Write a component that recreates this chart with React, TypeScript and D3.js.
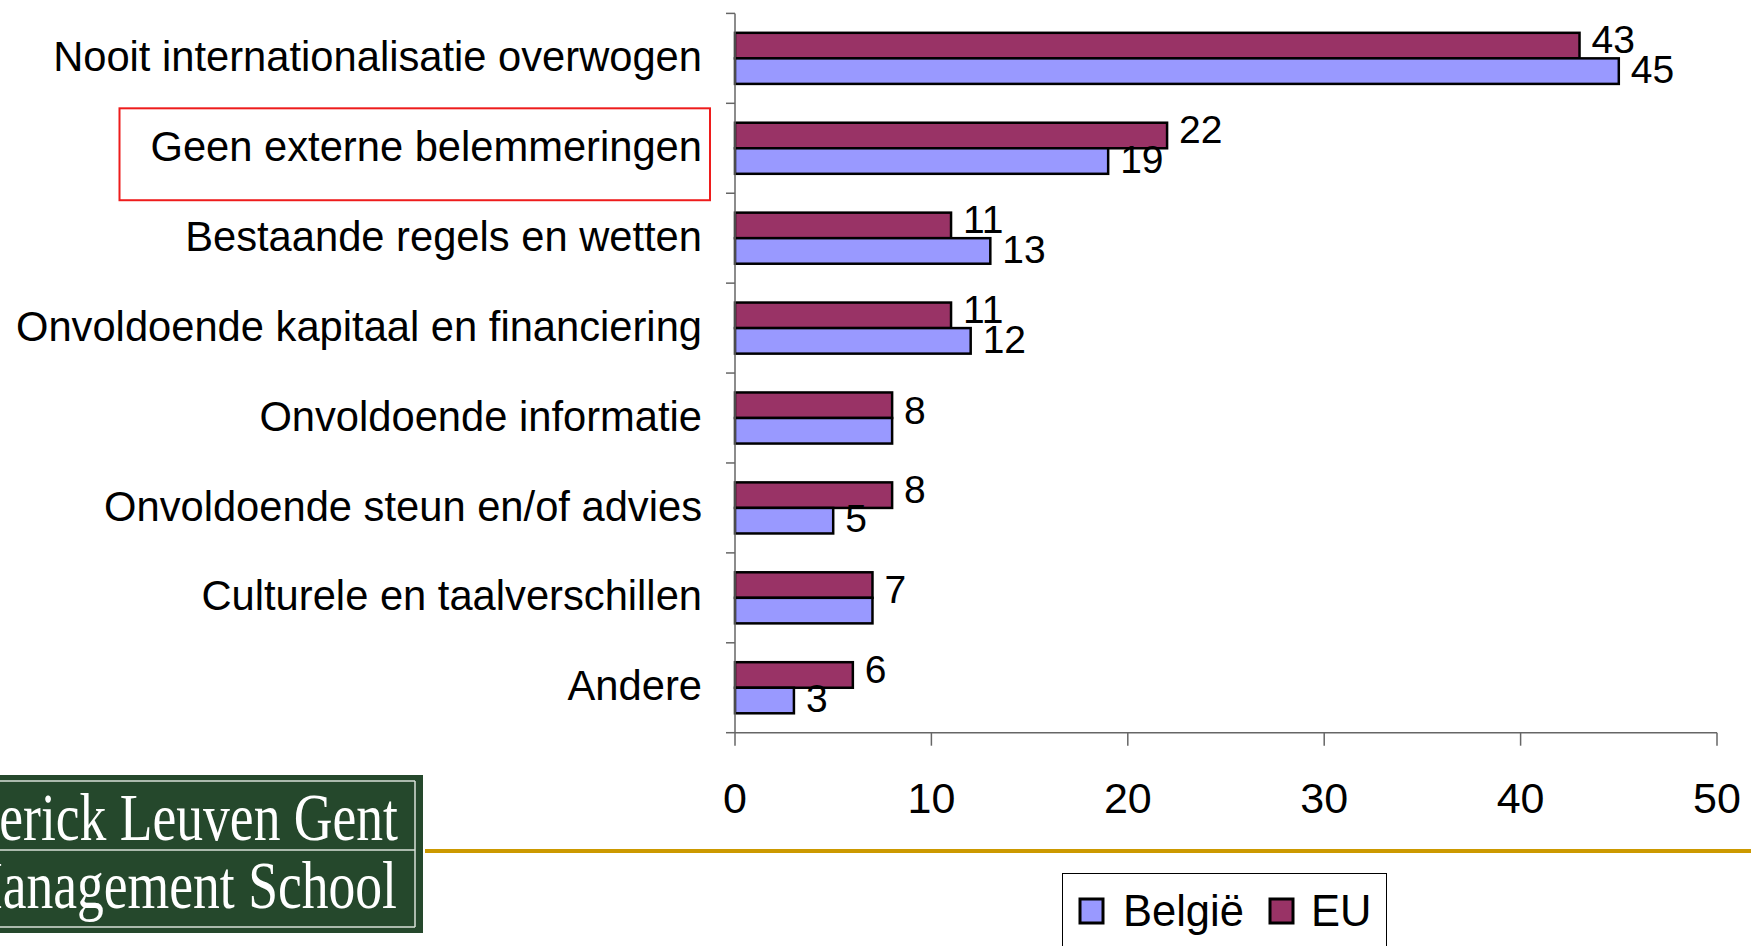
import React from "react";
import * as d3 from "d3";

const categories = [
  "Nooit internationalisatie overwogen",
  "Geen externe belemmeringen",
  "Bestaande regels en wetten",
  "Onvoldoende kapitaal en financiering",
  "Onvoldoende informatie",
  "Onvoldoende steun en/of advies",
  "Culturele en taalverschillen",
  "Andere",
];
const belgie = [45, 19, 13, 12, 8, 5, 7, 3];
const eu = [43, 22, 11, 11, 8, 8, 7, 6];
const xTicks = [0, 10, 20, 30, 40, 50];
const seriesNames = ["België", "EU"];
const highlighted = "Geen externe belemmeringen";
const logoLines = ["Vlerick Leuven Gent", "Management School"];

const W = 1751;
const H = 946;
const FONT = "'Liberation Sans', Arial, Helvetica, sans-serif";
const SERIF = "'Liberation Serif', 'Times New Roman', serif";
const COL_BE = "#9999FF";
const COL_EU = "#993366";

export default function App() {
  const x = d3.scaleLinear().domain([0, 50]).range([735, 1717]);
  const y = d3.scaleBand<string>().domain(categories).range([13.4, 732.7]);
  const bw = y.bandwidth();
  const inner = d3
    .scaleBand<string>()
    .domain(["EU", "België"])
    .range([0, bw])
    .paddingInner(0)
    .paddingOuter(0.76);
  const ih = inner.bandwidth();
  const x0 = x(0);
  const yTop = y.range()[0];
  const yBot = y.range()[1];

  const rows = categories.map((c, i) => ({ c, be: belgie[i], eu: eu[i] }));

  return (
    <svg
      width={W}
      height={H}
      style={{ position: "absolute", left: 0, top: 0, background: "#fff" }}
    >
      <rect x={0} y={0} width={W} height={H} fill="#fff" />

      {/* bars */}
      {rows.map((r) => {
        const by = y(r.c)!;
        const yEU = by + inner("EU")!;
        const yBE = by + inner("België")!;
        return (
          <g key={r.c}>
            <rect
              x={x0}
              y={yEU}
              width={x(r.eu) - x0}
              height={ih}
              fill={COL_EU}
              stroke="#000"
              strokeWidth={2.5}
            />
            <rect
              x={x0}
              y={yBE}
              width={x(r.be) - x0}
              height={ih}
              fill={COL_BE}
              stroke="#000"
              strokeWidth={2.5}
            />
          </g>
        );
      })}

      {/* value labels */}
      {rows.map((r) => {
        const by = y(r.c)!;
        const cEU = by + inner("EU")! + ih / 2;
        const cBE = by + inner("België")! + ih / 2;
        const common = {
          fontFamily: FONT,
          fontSize: 39,
          fill: "#000",
          dy: "0.35em",
        } as const;
        if (r.eu === r.be) {
          return (
            <text key={r.c} x={x(r.eu) + 12} y={(cEU + cBE) / 2 - 8} {...common}>
              {r.eu}
            </text>
          );
        }
        return (
          <g key={r.c}>
            <text x={x(r.eu) + 12} y={cEU - 6} {...common}>
              {r.eu}
            </text>
            <text x={x(r.be) + 12} y={cBE - 2} {...common}>
              {r.be}
            </text>
          </g>
        );
      })}

      {/* y axis */}
      <line x1={x0} x2={x0} y1={yTop} y2={yBot} stroke="#666" strokeWidth={1.5} />
      {[...categories.map((c) => y(c)!), yBot].map((t, i) => (
        <line key={i} x1={x0 - 9} x2={x0} y1={t} y2={t} stroke="#666" strokeWidth={1.5} />
      ))}

      {/* x axis */}
      <line x1={x0} x2={x(50)} y1={yBot} y2={yBot} stroke="#666" strokeWidth={1.5} />
      {xTicks.map((t) => (
        <g key={t}>
          <line x1={x(t)} x2={x(t)} y1={yBot} y2={yBot + 13} stroke="#666" strokeWidth={1.5} />
          <text
            x={x(t)}
            y={813}
            textAnchor="middle"
            fontFamily={FONT}
            fontSize={43}
            fill="#000"
          >
            {t}
          </text>
        </g>
      ))}

      {/* category labels */}
      {categories.map((c) => (
        <text
          key={c}
          x={702}
          y={y(c)! + bw / 2 - 2}
          dy="0.35em"
          textAnchor="end"
          fontFamily={FONT}
          fontSize={41.7}
          fill="#000"
        >
          {c}
        </text>
      ))}

      {/* highlight box */}
      <rect
        x={119.5}
        y={y(highlighted)! + 5}
        width={710 - 119.5}
        height={bw + 2}
        fill="none"
        stroke="#ee1c1c"
        strokeWidth={2}
      />

      {/* gold rule */}
      <rect x={425} y={849} width={W - 425} height={4} fill="#CC9900" />

      {/* logo */}
      <g>
        <rect x={-10} y={775} width={433} height={158} fill="#25482C" />
        <line x1={-10} x2={415} y1={781} y2={781} stroke="#d8e0d8" strokeWidth={1.5} />
        <line x1={-10} x2={415} y1={850} y2={850} stroke="#d8e0d8" strokeWidth={1.5} />
        <line x1={-10} x2={415} y1={927} y2={927} stroke="#d8e0d8" strokeWidth={1.5} />
        <line x1={415} x2={415} y1={781} y2={927} stroke="#d8e0d8" strokeWidth={1.5} />
        <text
          transform="translate(398,840) scale(0.8,1)"
          textAnchor="end"
          fontFamily={SERIF}
          fontSize={67}
          fill="#fff"
        >
          {logoLines[0]}
        </text>
        <text
          transform="translate(397,908) scale(0.8,1)"
          textAnchor="end"
          fontFamily={SERIF}
          fontSize={67}
          fill="#fff"
        >
          {logoLines[1]}
        </text>
      </g>

      {/* legend */}
      <g>
        <rect x={1062.5} y={873.5} width={324} height={90} fill="#fff" stroke="#000" strokeWidth={1} />
        <rect x={1080} y={899} width={23} height={24} fill={COL_BE} stroke="#000" strokeWidth={3} />
        <text x={1123} y={926} fontFamily={FONT} fontSize={43.5} fill="#000">
          {seriesNames[0]}
        </text>
        <rect x={1270} y={899} width={23} height={24} fill={COL_EU} stroke="#000" strokeWidth={3} />
        <text x={1311} y={926} fontFamily={FONT} fontSize={43.5} fill="#000">
          {seriesNames[1]}
        </text>
      </g>
    </svg>
  );
}
